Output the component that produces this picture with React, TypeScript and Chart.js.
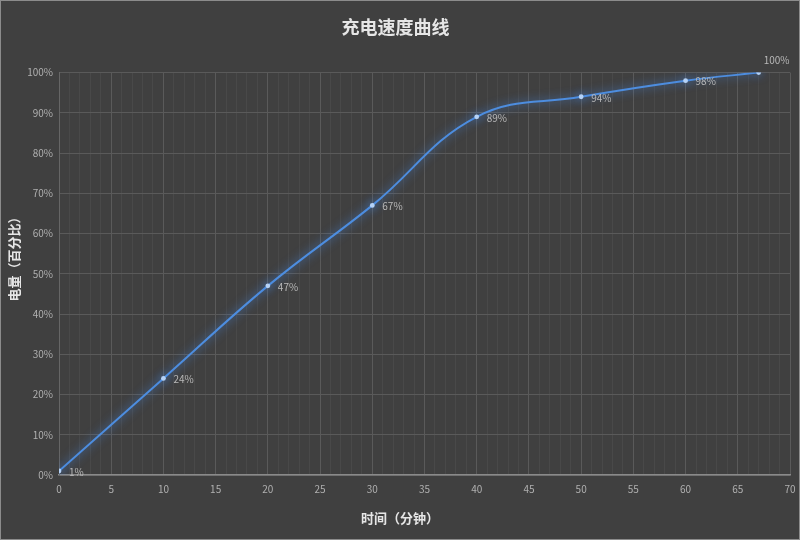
import React, { useRef, useEffect } from 'react';
import { Chart, registerables } from 'chart.js';

Chart.register(...registerables);

// charging data
const minutes = [0, 10, 20, 30, 40, 50, 60, 67];
const batteryPct = [1, 24, 47, 67, 89, 94, 98, 100];
const yTicks = [0, 10, 20, 30, 40, 50, 60, 70, 80, 90, 100];

const FONT = '"Noto Sans CJK SC", "Noto Sans", sans-serif';
const BG = '#404040';

const glowPlugin = {
  id: 'glow',
  beforeDatasetDraw(chart: any) {
    const ctx = chart.ctx;
    ctx.save();
    ctx.shadowColor = 'rgba(70, 140, 240, 0.9)';
    ctx.shadowBlur = 10;
  },
  afterDatasetDraw(chart: any) {
    chart.ctx.restore();
  },
};

const pointLabels = {
  id: 'pointLabels',
  afterDatasetsDraw(chart: any) {
    const ctx = chart.ctx;
    const meta = chart.getDatasetMeta(0);
    ctx.save();
    ctx.font = `10px ${FONT}`;
    ctx.fillStyle = '#b8b8b8';
    ctx.textAlign = 'left';
    ctx.textBaseline = 'middle';
    meta.data.forEach((pt: any, i: number) => {
      const last = i === meta.data.length - 1;
      const dx = last ? 5 : 10;
      const dy = last ? -12 : 1;
      ctx.fillText(batteryPct[i] + '%', pt.x + dx, pt.y + dy);
    });
    ctx.restore();
  },
};

const axisTitles = {
  id: 'axisTitles',
  afterDraw(chart: any) {
    const ctx = chart.ctx;
    ctx.save();
    ctx.font = `bold 13px ${FONT}`;
    ctx.fillStyle = '#e6e6e6';
    ctx.textAlign = 'center';
    ctx.textBaseline = 'middle';
    ctx.fillText('时间（分钟）', chart.width / 2, 517);
    ctx.translate(13, 255);
    ctx.rotate(-Math.PI / 2);
    ctx.fillText('电量（百分比）', 0, 0);
    ctx.restore();
  },
};

const ChargeCurve: React.FC = () => {
  const canvasRef = useRef<HTMLCanvasElement>(null);

  useEffect(() => {
    if (!canvasRef.current) return;
    const chart = new Chart(canvasRef.current, {
      type: 'line',
      data: {
        datasets: [{
          data: minutes.map((m, i) => ({ x: m, y: batteryPct[i] })),
          borderColor: '#4d8ddf',
          borderWidth: 2,
          tension: 0.4,
          pointRadius: 2.4,
          pointBackgroundColor: '#b5d2f7',
          pointBorderWidth: 0,
          fill: false,
        }],
      },
      options: {
        responsive: false,
        animation: false,
        layout: { padding: { left: 0, right: 9, top: 0, bottom: 0 } },
        plugins: {
          legend: { display: false },
          tooltip: { enabled: false },
          title: {
            display: true,
            text: '充电速度曲线',
            color: '#e6e6e6',
            font: { family: FONT, size: 18, weight: 'bold' },
            padding: { top: 15, bottom: 35 },
          },
        },
        scales: {
          x: {
            type: 'linear',
            min: 0,
            max: 70,
            afterFit: (s: any) => { s.height = 64; s.paddingRight = 0; s.paddingLeft = 0; },
            ticks: {
              stepSize: 1,
              autoSkip: false,
              maxRotation: 0,
              padding: 8,
              color: '#b0b0b0',
              font: { family: FONT, size: 10 },
              callback: (v: any) => (v % 5 === 0 ? String(v) : ''),
            },
            grid: {
              drawTicks: false,
              color: (c: any) => (c.tick && c.tick.value % 5 === 0 ? '#5a5a5a' : '#494949'),
            },
            border: { color: '#8a8a8a', width: 1.5 },
          },
          y: {
            min: 0,
            max: 100,
            afterFit: (s: any) => { s.width = 58; },
            afterBuildTicks: (s: any) => { s.ticks = yTicks.map((v) => ({ value: v })); },
            ticks: {
              padding: 6,
              color: '#b0b0b0',
              font: { family: FONT, size: 10 },
              callback: (v: any) => v + '%',
            },
            grid: { drawTicks: false, color: '#5a5a5a' },
            border: { color: '#666666' },
          },
        },
      },
      plugins: [glowPlugin, pointLabels, axisTitles],
    });
    return () => chart.destroy();
  }, []);

  return (
    <div style={{
      position: 'fixed', top: 0, left: 0, width: 800, height: 540,
      boxSizing: 'border-box', border: '1px solid #8c8c8c', background: BG,
    }}>
      <canvas ref={canvasRef} width={798} height={538} style={{ display: 'block' }} />
    </div>
  );
};

export default function App() {
  return <ChargeCurve />;
}
